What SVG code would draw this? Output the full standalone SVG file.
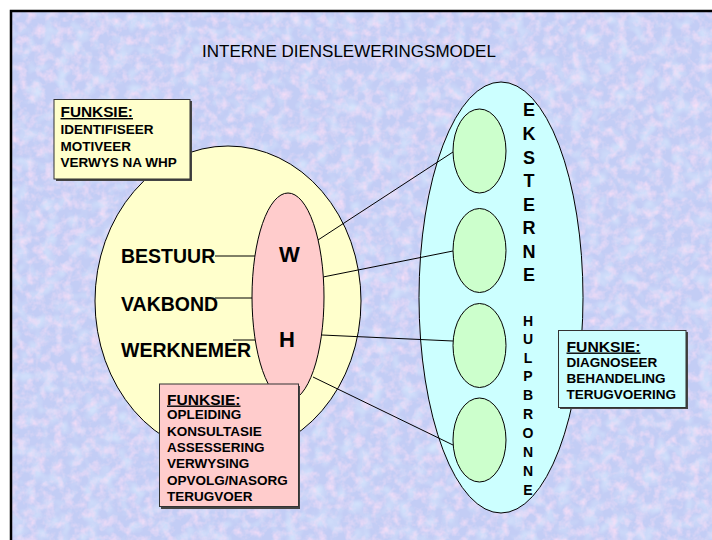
<svg xmlns="http://www.w3.org/2000/svg" width="712" height="540" viewBox="0 0 712 540">
<defs>
<filter id="tex" x="0" y="0" width="100%" height="100%">
<feTurbulence type="fractalNoise" baseFrequency="0.11" numOctaves="3" seed="4" result="n"/>
<feColorMatrix in="n" type="matrix" values="0 0 0 0 0.96  0 0 0 0 0.74  0 0 0 0 0.93  1.7 0 0 0 -0.72"/>
</filter>
<filter id="tex2" x="0" y="0" width="100%" height="100%">
<feTurbulence type="fractalNoise" baseFrequency="0.07" numOctaves="2" seed="9" result="n"/>
<feColorMatrix in="n" type="matrix" values="0 0 0 0 0.72  0 0 0 0 0.86  0 0 0 0 1  0 1.6 0 0 -0.72"/>
</filter>
<style>
.shape{stroke:#000;stroke-width:1}
.box{stroke:#333;stroke-width:1}
.shadow{fill:#444}
.conn line{stroke:#000;stroke-width:1}
.t{font-family:"Liberation Sans",Arial,sans-serif;font-weight:bold;fill:#000}
.item{font-size:13.5px}
.head{font-size:14px;text-decoration:underline}
.lbl{font-size:19.5px}
.big{font-size:22px;text-anchor:middle}
.v1{font-size:18px;text-anchor:middle}
.v2{font-size:14px;text-anchor:middle}
</style>
</defs>
<rect x="0" y="0" width="712" height="540" fill="#ffffff"/>
<rect x="12" y="12" width="700" height="528" fill="#c3cdf5"/>
<rect x="12" y="12" width="700" height="528" filter="url(#tex2)"/>
<rect x="12" y="12" width="700" height="528" filter="url(#tex)"/>
<path d="M11 540 V11 H712" fill="none" stroke="#000" stroke-width="2.5"/>

<text id="title" class="t" x="349" y="57" style="font-weight:normal;font-size:17px" text-anchor="middle">INTERNE DIENSLEWERINGSMODEL</text>

<g id="interne">
<ellipse class="shape" cx="228" cy="301" rx="133" ry="155" fill="#ffffcc"/>
</g>

<g id="eksterne">
<ellipse class="shape" cx="501" cy="297.5" rx="82" ry="215.5" fill="#ccffff"/>
<text class="t v1" x="529"><tspan x="529" y="116">E</tspan><tspan x="529" y="140">K</tspan><tspan x="529" y="163.5">S</tspan><tspan x="529" y="187">T</tspan><tspan x="529" y="210.5">E</tspan><tspan x="529" y="234">R</tspan><tspan x="529" y="257.5">N</tspan><tspan x="529" y="281">E</tspan></text>
<text class="t v2" x="528"><tspan x="528" y="326">H</tspan><tspan x="528" y="344">U</tspan><tspan x="528" y="362.5">L</tspan><tspan x="528" y="381">P</tspan><tspan x="528" y="400">B</tspan><tspan x="528" y="418.5">R</tspan><tspan x="528" y="437.5">O</tspan><tspan x="528" y="456.5">N</tspan><tspan x="528" y="475.5">N</tspan><tspan x="528" y="495">E</tspan></text>
</g>

<g id="connectors" class="conn">
<line x1="215" y1="256" x2="255" y2="256"/>
<line x1="215" y1="298" x2="253" y2="298"/>
<line x1="233" y1="340" x2="255" y2="340"/>
<line x1="318" y1="240" x2="453" y2="152"/>
<line x1="323" y1="277" x2="453" y2="251"/>
<line x1="322" y1="335" x2="453" y2="341"/>
<line x1="313" y1="377" x2="453" y2="445"/>
</g>

<g id="hulpbron1"><ellipse class="shape" cx="479.5" cy="151" rx="26.5" ry="42" fill="#ccffcc"/></g>
<g id="hulpbron2"><ellipse class="shape" cx="479.5" cy="250.5" rx="26.5" ry="42" fill="#ccffcc"/></g>
<g id="hulpbron3"><ellipse class="shape" cx="479.5" cy="345.5" rx="26.5" ry="42" fill="#ccffcc"/></g>
<g id="hulpbron4"><ellipse class="shape" cx="479.5" cy="440" rx="26.5" ry="42" fill="#ccffcc"/></g>

<g id="wh">
<ellipse class="shape" cx="288" cy="297" rx="36" ry="104" fill="#ffcccc"/>
<text class="t big" x="289.5" y="262">W</text>
<text class="t big" x="287" y="347">H</text>
</g>

<g id="bestuur"><text class="t lbl" x="121" y="262.5">BESTUUR</text></g>
<g id="vakbond"><text class="t lbl" x="121" y="310.5">VAKBOND</text></g>
<g id="werknemer"><text class="t lbl" x="121" y="357">WERKNEMER</text></g>

<g id="funksie-intern">
<rect class="shadow" x="56" y="101" width="136" height="80"/>
<rect class="box" x="54" y="99.5" width="136" height="79.5" fill="#ffffcc"/>
<text class="t head" x="60.5" y="117" textLength="72.5" lengthAdjust="spacingAndGlyphs">FUNKSIE:</text>
<text class="t item" x="60.5" y="134">IDENTIFISEER</text>
<text class="t item" x="60.5" y="150.5">MOTIVEER</text>
<text class="t item" x="60.5" y="166.5">VERWYS NA WHP</text>
</g>

<g id="funksie-wh">
<rect class="shadow" x="161" y="386" width="139" height="123"/>
<rect class="box" x="159.5" y="384" width="139" height="122.5" fill="#ffcccc"/>
<text class="t head" x="167" y="404.5" textLength="73.5" lengthAdjust="spacingAndGlyphs">FUNKSIE:</text>
<text class="t item" x="167" y="419">OPLEIDING</text>
<text class="t item" x="167" y="435.5">KONSULTASIE</text>
<text class="t item" x="167" y="452">ASSESSERING</text>
<text class="t item" x="167" y="468.3">VERWYSING</text>
<text class="t item" x="167" y="484.6">OPVOLG/NASORG</text>
<text class="t item" x="167" y="501">TERUGVOER</text>
</g>

<g id="funksie-ekstern">
<rect class="shadow" x="560" y="332" width="128" height="77"/>
<rect class="box" x="558.5" y="330.5" width="127.5" height="77" fill="#ccffff"/>
<text class="t head" x="566.5" y="351.5" textLength="74" lengthAdjust="spacingAndGlyphs">FUNKSIE:</text>
<text class="t item" x="566.5" y="366.7">DIAGNOSEER</text>
<text class="t item" x="566.5" y="383.2">BEHANDELING</text>
<text class="t item" x="566.5" y="399">TERUGVOERING</text>
</g>
</svg>
